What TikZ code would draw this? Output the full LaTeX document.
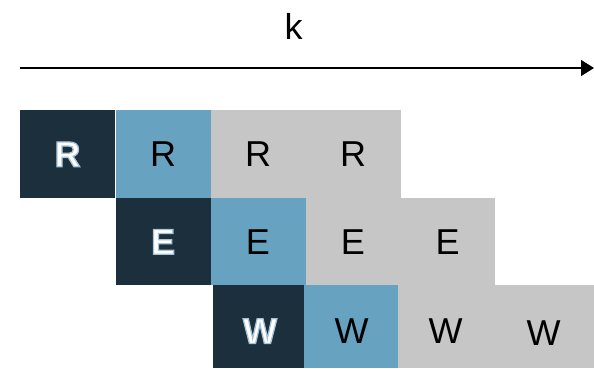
\documentclass[tikz,border=0pt]{standalone}
\usepackage{fontspec}
\setmainfont{Liberation Sans}
\usetikzlibrary{arrows.meta}
\definecolor{cdark}{HTML}{1B2F3D}
\definecolor{cblue}{HTML}{68A2C1}
\definecolor{cgray}{HTML}{C6C6C6}
\tikzset{
  cell/.style={minimum width=95pt, minimum height=87.5pt, inner sep=0pt, outer sep=0pt, font=\fontsize{36}{36}\selectfont, text depth=0pt, text height=26pt},
  darkcell/.style={cell, fill=cdark},
  bluecell/.style={cell, fill=cblue},
  graycell/.style={cell, fill=cgray},
  axis/.style={line width=1.4pt, -{Triangle[length=13pt,width=16pt]}},
}
\newcommand{\hl}[1]{\textcolor{white}{\special{pdf:literal direct 2 Tr 1.3 w 0.663 0.765 0.839 RG}\bfseries #1\special{pdf:literal direct 0 Tr}}}
\begin{document}
\begin{tikzpicture}[x=1pt,y=-1pt]
\useasboundingbox (0,0) rectangle (594,368);
\node[font=\fontsize{36}{36}\selectfont] (k) at (293.5,26) {k};
\coordinate (a0) at (20,68);
\coordinate (a1) at (594,68);
\draw[axis] (a0) -- (a1);
% row 1
\node[darkcell, anchor=north west] (r1) at (20,110) {\hl{R}};
\node[bluecell, anchor=north west] (r2) at (115.5,110) {R};
\node[graycell, anchor=north west] (r3) at (210.5,110) {R};
\node[graycell, anchor=north west] (r4) at (305.5,110) {R};
% row 2
\node[darkcell, anchor=north west] (e1) at (115.5,197.5) {\hl{E}};
\node[bluecell, anchor=north west] (e2) at (210.5,197.5) {E};
\node[graycell, anchor=north west] (e3) at (305.5,197.5) {E};
\node[graycell, anchor=north west] (e4) at (400,197.5) {E};
% row 3
\node[darkcell, anchor=north west, minimum height=83pt] (w1) at (212.5,285) {\raisebox{-4pt}{\hl{W}}};
\node[bluecell, anchor=north west, minimum height=83pt] (w2) at (304,285) {\raisebox{-4pt}{W}};
\node[graycell, anchor=north west, minimum height=83pt] (w3) at (398,285) {\raisebox{-4pt}{W}};
\node[graycell, anchor=north west, minimum height=83pt, minimum width=101pt] (w4) at (493,285) {\raisebox{-6pt}{W}};
\end{tikzpicture}
\end{document}
